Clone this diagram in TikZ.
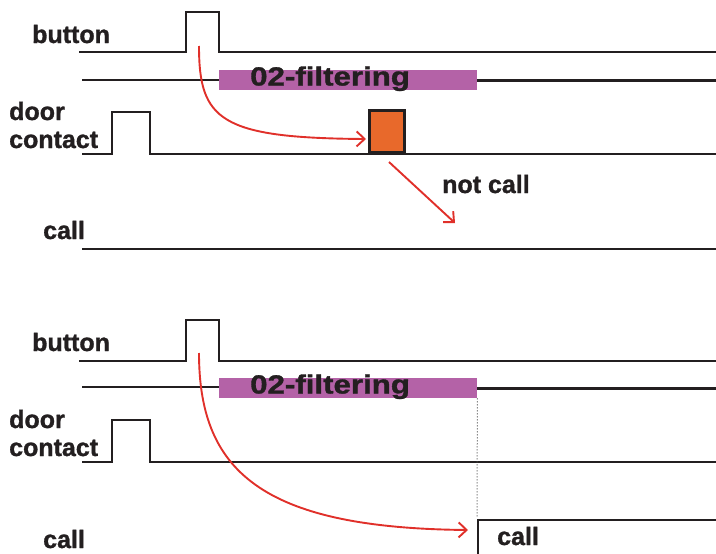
\documentclass[tikz,border=0pt]{standalone}
\usepackage{fontspec}
\setmainfont{Liberation Sans}[BoldFeatures={FakeBold=1.2}]
\usepackage{graphicx}
\usetikzlibrary{arrows.meta}
\definecolor{sigpurple}{HTML}{B462A7}
\definecolor{sigorange}{HTML}{E8692B}
\definecolor{arrred}{HTML}{E0302A}
\definecolor{ink}{HTML}{231F20}
\begin{document}
\begin{tikzpicture}[x=1pt,y=-1pt,
  lbl/.style={font=\fontsize{25}{28}\selectfont\bfseries, anchor=base west, inner sep=0pt, text=ink},
  sig/.style={line width=2.6pt, draw=ink, line join=miter},
  barbox/.style={fill=sigpurple, draw=none, anchor=north west, inner sep=0pt, minimum width=258pt, minimum height=20pt},
  pulsebox/.style={fill=sigorange, draw=ink, line width=2.6pt, anchor=south west, inner sep=0pt, minimum width=35pt, minimum height=42pt},
  redarr/.style={draw=arrred, line width=1.9pt, -{Straight Barb[length=8pt,width=15pt]}},
  dotline/.style={draw=black!70, line width=1pt, dotted}]
\useasboundingbox (0,0) rectangle (716,554);

% ---------- top panel ----------
\node[lbl] (b1) at (32,43) {button};
\node[lbl] (d1) at (9,120) {door};
\node[lbl] (c1) at (9,148) {contact};
\node[lbl] (k1) at (43,239) {call};
\node[lbl] (n1) at (442,193) {not call};

\draw[sig] (79,52) -- (186,52) -- (186,12) -- (219,12) -- (219,52) -- (716,52);
\draw[sig] (82,80) -- (219,80);
\node[barbox] (bar1) at (219,70) {};
\draw[sig] (bar1.east) -- ++(240,0);
\node[lbl] (f1) at (250,85.5) {\scalebox{1.25}[1.05]{02-filtering}};
\draw[sig] (82,154) -- (112,154) -- (112,112) -- (150,112) -- (150,154) -- (716,154);
\node[pulsebox] (p1) at (368,154) {};
\draw[sig] (82,249) -- (716,249);

\coordinate (a1s) at (199,46);
\coordinate (a1e) at (366,139);
\draw[redarr] (a1s) .. controls (199,120) and (220,138) .. (a1e);
\coordinate (a2s) at (389,162);
\coordinate (a2e) at (455,223);
\draw[redarr] (a2s) -- (a2e);

% ---------- bottom panel ----------
\node[lbl] (b2) at (32,351) {button};
\node[lbl] (d2) at (9,428) {door};
\node[lbl] (c2) at (9,456) {contact};
\node[lbl] (k2) at (43,548) {call};
\node[lbl] (k3) at (497,545) {call};

\draw[sig] (79,361) -- (186,361) -- (186,320) -- (219,320) -- (219,361) -- (716,361);
\draw[sig] (82,387) -- (219,387);
\node[barbox] (bar2) at (219,378) {};
\draw[sig] (bar2.east) -- ++(240,0);
\node[lbl] (f2) at (250,393.5) {\scalebox{1.25}[1.05]{02-filtering}};
\draw[sig] (82,462) -- (112,462) -- (112,420) -- (150,420) -- (150,462) -- (716,462);
\draw[sig] (478,560) -- (478,520) -- (716,520);
\draw[dotline] (bar2.south east) -- (477,518);

\coordinate (a3s) at (199,353);
\coordinate (a3e) at (468,530);
\draw[redarr] (a3s) .. controls (199,470) and (260,528) .. (a3e);
\end{tikzpicture}
\end{document}
